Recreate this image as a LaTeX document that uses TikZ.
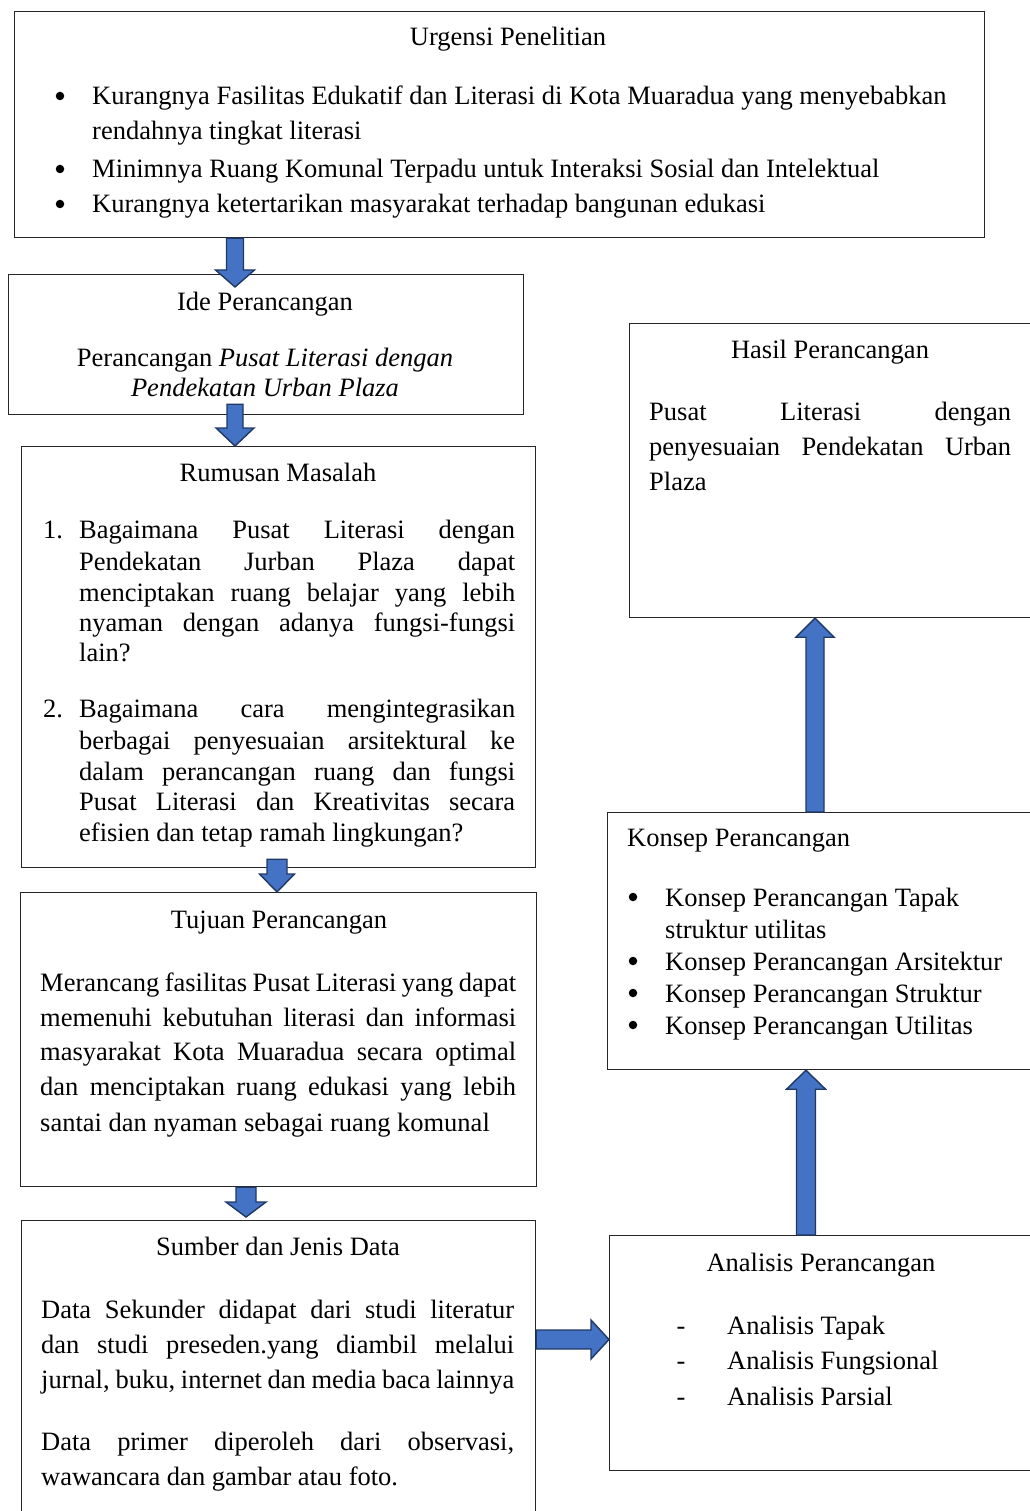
\documentclass[tikz,border=0pt]{standalone}
\usepackage{fontspec}
\setmainfont{Liberation Serif}
\usetikzlibrary{calc}
\definecolor{arrfill}{HTML}{4472C4}
\definecolor{arrline}{HTML}{203864}
\newcommand\blockarr[5]{%
  \coordinate (hb) at ($(#2)!#5!(#1)$);
  \filldraw[barrow] ($(#1)!#3!90:(#2)$) -- ($(hb)!#3!90:(#2)$) -- ($(hb)!#4!90:(#2)$) -- (#2)
    -- ($(hb)!#4!-90:(#2)$) -- ($(hb)!#3!-90:(#2)$) -- ($(#1)!#3!-90:(#2)$) -- cycle;}
\newcommand\jl[1]{\makebox[#1][s]}
\begin{document}
\begin{tikzpicture}[x=1pt,y=-1pt,
  box/.style={draw=black!85, line width=1.2pt, rectangle, inner sep=0pt, anchor=north west},
  txt/.style={inner sep=0pt, font=\fontsize{26.5}{32}\selectfont},
  dot/.style={circle, fill=black, inner sep=0pt, minimum size=8.5pt},
  barrow/.style={fill=arrfill, draw=arrline, line width=1.4pt, line join=miter}]
\useasboundingbox (0,0) rectangle (1029,1511);

% boxes
\node[box, minimum width=970pt, minimum height=226pt] (urg) at (14,11) {};
\node[box, minimum width=515pt, minimum height=140pt] (ide) at (8,274) {};
\node[box, minimum width=514pt, minimum height=421pt] (rum) at (21,446) {};
\node[box, minimum width=516pt, minimum height=294pt] (tuj) at (20,892) {};
\node[box, minimum width=514pt, minimum height=320pt] (sum) at (21,1220) {};
\node[box, minimum width=420pt, minimum height=294pt] (hasil) at (629,323) {};
\node[box, minimum width=440pt, minimum height=257pt] (konsep) at (607,812) {};
\node[box, minimum width=440pt, minimum height=235pt] (anal) at (609,1235) {};

% Urgensi
\node[txt, anchor=base] (urgT) at (508,46) {Urgensi Penelitian};
\node[dot] (ub1) at (60,96) {};
\node[txt, anchor=base west] (u1a) at (92,105) {Kurangnya Fasilitas Edukatif dan Literasi di Kota Muaradua yang menyebabkan};
\node[txt, anchor=base west] (u1b) at (92,140) {rendahnya tingkat literasi};
\node[dot] (ub2) at (60,169) {};
\node[txt, anchor=base west] (u2) at (92,178) {Minimnya Ruang Komunal Terpadu untuk Interaksi Sosial dan Intelektual};
\node[dot] (ub3) at (60,204) {};
\node[txt, anchor=base west] (u3) at (92,213) {Kurangnya ketertarikan masyarakat terhadap bangunan edukasi};

% Ide
\node[txt, anchor=base] (ideT) at (265,310) {Ide Perancangan};
\node[txt, anchor=base] (ide1) at (265,366) {Perancangan \textit{Pusat Literasi dengan}};
\node[txt, anchor=base] (ide2) at (265,396) {\textit{Pendekatan Urban Plaza}};

% Rumusan
\node[txt, anchor=base] (rumT) at (278,481) {Rumusan Masalah};
\node[txt, anchor=base west] (rn1) at (43,538) {1.};
\node[txt, anchor=base west] (r1a) at (79,538) {\jl{436pt}{Bagaimana Pusat Literasi dengan}};
\node[txt, anchor=base west] (r1b) at (79,570) {\jl{436pt}{Pendekatan Jurban Plaza dapat}};
\node[txt, anchor=base west] (r1c) at (79,601) {\jl{436pt}{menciptakan ruang belajar yang lebih}};
\node[txt, anchor=base west] (r1d) at (79,631) {\jl{436pt}{nyaman dengan adanya fungsi-fungsi}};
\node[txt, anchor=base west] (r1e) at (79,661) {lain?};
\node[txt, anchor=base west] (rn2) at (43,717) {2.};
\node[txt, anchor=base west] (r2a) at (79,717) {\jl{436pt}{Bagaimana cara mengintegrasikan}};
\node[txt, anchor=base west] (r2b) at (79,749) {\jl{436pt}{berbagai penyesuaian arsitektural ke}};
\node[txt, anchor=base west] (r2c) at (79,780) {\jl{436pt}{dalam perancangan ruang dan fungsi}};
\node[txt, anchor=base west] (r2d) at (79,810) {\jl{436pt}{Pusat Literasi dan Kreativitas secara}};
\node[txt, anchor=base west] (r2e) at (79,841) {efisien dan tetap ramah lingkungan?};

% Tujuan
\node[txt, anchor=base] (tujT) at (279,928) {Tujuan Perancangan};
\node[txt, anchor=base west] (t1) at (40,991) {\jl{476pt}{Merancang fasilitas Pusat Literasi yang dapat}};
\node[txt, anchor=base west] (t2) at (40,1026) {\jl{476pt}{memenuhi kebutuhan literasi dan informasi}};
\node[txt, anchor=base west] (t3) at (40,1060) {\jl{476pt}{masyarakat Kota Muaradua secara optimal}};
\node[txt, anchor=base west] (t4) at (40,1095) {\jl{476pt}{dan menciptakan ruang edukasi yang lebih}};
\node[txt, anchor=base west] (t5) at (40,1131) {santai dan nyaman sebagai ruang komunal};

% Sumber
\node[txt, anchor=base] (sumT) at (278,1255) {Sumber dan Jenis Data};
\node[txt, anchor=base west] (s1) at (41,1318) {\jl{473pt}{Data Sekunder didapat dari studi literatur}};
\node[txt, anchor=base west] (s2) at (41,1353) {\jl{473pt}{dan studi preseden.yang diambil melalui}};
\node[txt, anchor=base west] (s3) at (41,1388) {\jl{473pt}{jurnal, buku, internet dan media baca lainnya}};
\node[txt, anchor=base west] (s4) at (41,1450) {\jl{473pt}{Data primer diperoleh dari observasi,}};
\node[txt, anchor=base west] (s5) at (41,1485) {wawancara dan gambar atau foto.};

% Hasil
\node[txt, anchor=base] (hasT) at (830,358) {Hasil Perancangan};
\node[txt, anchor=base west] (h1) at (649,420) {\jl{362pt}{Pusat Literasi dengan}};
\node[txt, anchor=base west] (h2) at (649,455) {\jl{362pt}{penyesuaian Pendekatan Urban}};
\node[txt, anchor=base west] (h3) at (649,490) {Plaza};

% Konsep
\node[txt, anchor=base west] (konT) at (627,846) {Konsep Perancangan};
\node[dot] (kb1) at (633,897) {};
\node[txt, anchor=base west] (k1a) at (665,906) {Konsep Perancangan Tapak};
\node[txt, anchor=base west] (k1b) at (665,938) {struktur utilitas};
\node[dot] (kb2) at (633,961) {};
\node[txt, anchor=base west] (k2) at (665,970) {Konsep Perancangan Arsitektur};
\node[dot] (kb3) at (633,993) {};
\node[txt, anchor=base west] (k3) at (665,1002) {Konsep Perancangan Struktur};
\node[dot] (kb4) at (633,1025) {};
\node[txt, anchor=base west] (k4) at (665,1034) {Konsep Perancangan Utilitas};

% Analisis
\node[txt, anchor=base] (anT) at (821,1271) {Analisis Perancangan};
\node[txt, anchor=base] (ad1) at (681,1334) {-};
\node[txt, anchor=base west] (a1) at (727,1334) {Analisis Tapak};
\node[txt, anchor=base] (ad2) at (681,1369) {-};
\node[txt, anchor=base west] (a2) at (727,1369) {Analisis Fungsional};
\node[txt, anchor=base] (ad3) at (681,1405) {-};
\node[txt, anchor=base west] (a3) at (727,1405) {Analisis Parsial};

% arrow reference positions
\coordinate (ax1) at (235,0);
\coordinate (ax3) at (277,0);
\coordinate (ax4) at (246,0);
\coordinate (ay5) at (0,1339.5);
\coordinate (ax6) at (806,0);
\coordinate (ax7) at (815,0);

\coordinate (a1s) at (urg.south -| ax1);
\coordinate (a1t) at ($(ide.north -| ax1)+(0,13)$);
\blockarr{a1s}{a1t}{8.5pt}{19.5pt}{17pt}

\coordinate (a2s) at ($(ide.south -| ax1)+(0,-11)$);
\coordinate (a2t) at (rum.north -| ax1);
\blockarr{a2s}{a2t}{8pt}{19pt}{18pt}

\coordinate (a3s) at ($(rum.south -| ax3)+(0,-9)$);
\coordinate (a3t) at (tuj.north -| ax3);
\blockarr{a3s}{a3t}{10pt}{17.5pt}{18pt}

\coordinate (a4s) at (tuj.south -| ax4);
\coordinate (a4t) at ($(sum.north -| ax4)+(0,-3)$);
\blockarr{a4s}{a4t}{10pt}{20pt}{15pt}

\coordinate (a5s) at (sum.east |- ay5);
\coordinate (a5t) at (anal.west |- ay5);
\blockarr{a5s}{a5t}{9.5pt}{19.5pt}{18pt}

\coordinate (a6s) at (anal.north -| ax6);
\coordinate (a6t) at (konsep.south -| ax6);
\blockarr{a6s}{a6t}{9.5pt}{19.5pt}{19pt}

\coordinate (a7s) at (konsep.north -| ax7);
\coordinate (a7t) at (hasil.south -| ax7);
\blockarr{a7s}{a7t}{9pt}{19pt}{19pt}
\end{tikzpicture}
\end{document}
